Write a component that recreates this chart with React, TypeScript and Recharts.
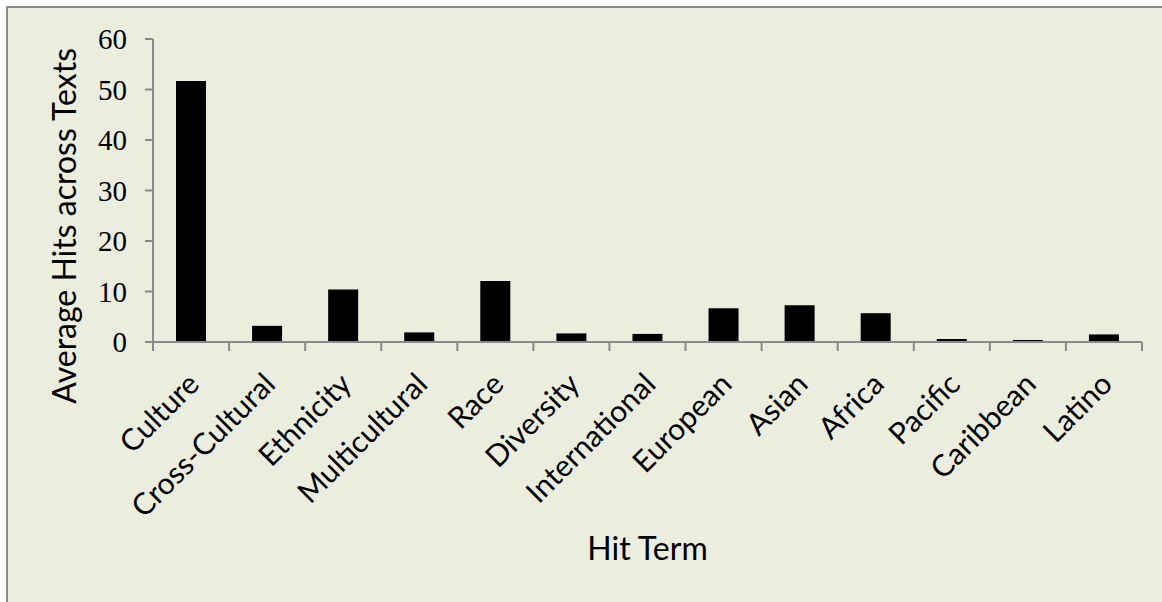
import React from 'react';
import { BarChart, Bar, XAxis, YAxis, Label } from 'recharts';

const terms = [
  'Culture', 'Cross-Cultural', 'Ethnicity', 'Multicultural', 'Race', 'Diversity',
  'International', 'European', 'Asian', 'Africa', 'Pacific', 'Caribbean', 'Latino',
];
const avgHits = [51.7, 3.2, 10.4, 1.9, 12.1, 1.7, 1.6, 6.7, 7.3, 5.7, 0.6, 0.4, 1.5];
const yTicks = [0, 10, 20, 30, 40, 50, 60];

const data = terms.map((term, i) => ({ term, hits: avgHits[i] }));

const AXIS = '#898989';
const SANS = 'Lato, "Open Sans", sans-serif';

// category label plus the tick mark on the band's left edge (and the right edge for the last one)
const TermTick = (props: any) => {
  const { x, y, payload, index } = props;
  const half = payload.offset || 0;
  const last = index === terms.length - 1;
  return (
    <g>
      <line x1={x - half} x2={x - half} y1={y} y2={y + 9} stroke={AXIS} strokeWidth={2} />
      {last && <line x1={x + half} x2={x + half} y1={y} y2={y + 9} stroke={AXIS} strokeWidth={2} />}
      <text
        transform={`translate(${x + 10}, ${y + 44}) rotate(-45)`}
        textAnchor="end"
        fontFamily={SANS}
        fontSize={30}
        fill="#000"
      >
        {payload.value}
      </text>
    </g>
  );
};

const App: React.FC = () => {
  return (
    <div style={{ position: 'absolute', left: 0, top: 0, width: 1162, height: 602, background: '#fff' }}>
      <div
        style={{
          position: 'absolute',
          left: 6,
          top: 6,
          width: 1154,
          height: 594,
          background: '#EBEEDF',
          borderTop: '2px solid #8c8c8c',
          borderLeft: '2px solid #8c8c8c',
        }}
      >
        <BarChart
          width={1154}
          height={594}
          data={data}
          margin={{ top: 31, right: 20, left: 45, bottom: 0 }}
        >
          <XAxis
            dataKey="term"
            interval={0}
            height={260}
            stroke={AXIS}
            strokeWidth={2}
            tickLine={false}
            tickSize={0}
            tickMargin={0}
            tick={<TermTick />}
          >
            <Label
              content={({ viewBox }: any) => (
                <text
                  x={viewBox.x + viewBox.width / 2}
                  y={viewBox.y + 218}
                  textAnchor="middle"
                  fontFamily={SANS}
                  fontSize={32}
                  fill="#000"
                >
                  Hit Term
                </text>
              )}
            />
          </XAxis>
          <YAxis
            domain={[0, 60]}
            ticks={yTicks}
            width={100}
            stroke={AXIS}
            strokeWidth={2}
            tickSize={8}
            tickMargin={18}
            tick={{ fill: '#000', fontFamily: '"Liberation Serif", serif', fontSize: 29 }}
          >
            <Label
              content={({ viewBox }: any) => (
                <text
                  transform={`translate(${viewBox.x + 23}, ${viewBox.y + 9}) rotate(-90)`}
                  textAnchor="end"
                  fontFamily={SANS}
                  fontSize={32}
                  fill="#000"
                >
                  Average Hits across Texts
                </text>
              )}
            />
          </YAxis>
          <Bar dataKey="hits" fill="#000" barSize={30} isAnimationActive={false} />
        </BarChart>
      </div>
    </div>
  );
};

export default App;
